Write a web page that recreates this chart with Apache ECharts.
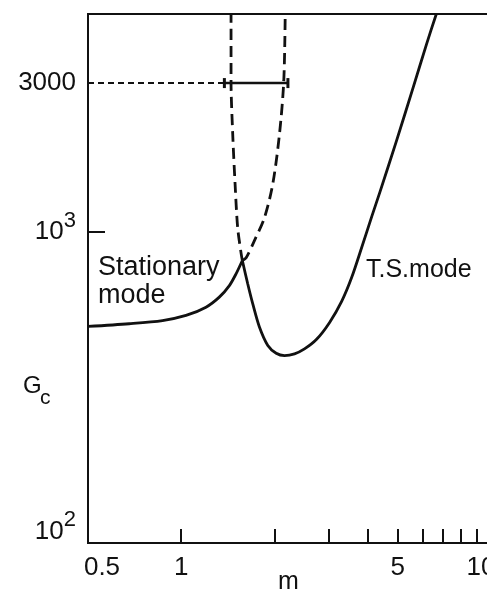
<!DOCTYPE html>
<html>
<head>
<meta charset="utf-8">
<script src="https://cdn.jsdelivr.net/npm/echarts@6/dist/echarts.min.js"></script>
<style>
  html, body { margin: 0; padding: 0; background: #fff; }
  #chart { width: 487px; height: 592px; }
</style>
</head>
<body>
<div id="chart"></div>
<script>
// axis marks
const xTicks = [1, 2, 3, 4, 5, 6, 7, 8, 9];
const xLabels = [0.5, 1, 5, 10];
const yTicks = [1000];
const yLabels = [100, 1000, 3000];

// curves, [m, Gc]
const stationary = [[0.5, 496], [0.679, 506], [0.87, 518], [1.036, 538], [1.202, 572],
  [1.327, 616], [1.43, 671], [1.503, 732], [1.575, 808]];
const stationaryDashed = [[1.575, 808], [1.62, 825], [1.723, 936], [1.857, 1110],
  [1.975, 1425], [2.076, 2061], [2.143, 3048], [2.166, 5000]];
const tsMode = [[1.575, 808], [1.639, 680], [1.701, 587], [1.788, 494], [1.903, 431],
  [2.025, 407], [2.154, 400], [2.321, 405], [2.5, 420], [2.735, 451], [3.013, 511],
  [3.295, 597], [3.549, 712], [3.824, 889], [4.12, 1117], [4.373, 1334], [4.953, 1957],
  [5.605, 2900], [6.19, 3995], [6.66, 5000]];
const tsDashed = [[1.575, 808], [1.561, 850], [1.521, 1030], [1.492, 1425],
  [1.466, 2061], [1.448, 3048], [1.448, 5000]];
const errorBar = [[1.378, 3000], [2.21, 3000]];
const guide = [[0.5, 3000], [1.378, 3000]];

const ink = '#111';
const font = 'Liberation Sans';

const chart = echarts.init(document.getElementById('chart'), null, { renderer: 'canvas' });

function curve(data, dashed) {
  return {
    type: 'line',
    data: data,
    smooth: 0.3,
    showSymbol: false,
    symbol: 'none',
    lineStyle: { color: ink, width: 2.8, type: dashed ? [11, 6] : 'solid' }
  };
}

chart.setOption({
  animation: false,
  backgroundColor: '#fff',
  grid: {
    left: 88, top: 14, bottom: 49, right: -4,
    containLabel: false, outerBoundsMode: 'none',
    show: true, borderColor: ink, borderWidth: 2
  },
  xAxis: {
    type: 'log',
    logBase: 10,
    min: 0.5,
    max: 10,
    axisLine: { show: false },
    splitLine: { show: false },
    minorTick: { show: false },
    axisTick: { show: true, inside: true, length: 14, customValues: xTicks, lineStyle: { color: ink, width: 2 } },
    axisLabel: {
      customValues: xLabels,
      margin: 12,
      color: ink,
      fontFamily: font,
      fontSize: 26,
      formatter: function (v) {
        if (v < 0.9) return '{l|0.5}';
        if (v > 9.5) return '{r|10}';
        return String(Math.round(v));
      },
      rich: {
        l: { fontFamily: font, fontSize: 26, color: ink, padding: [0, 0, 0, 28] },
        r: { fontFamily: font, fontSize: 26, color: ink, padding: [0, 20, 0, 0] }
      }
    }
  },
  yAxis: {
    type: 'log',
    logBase: 10,
    min: 100,
    max: 5000,
    axisLine: { show: false },
    splitLine: { show: false },
    minorTick: { show: false },
    axisTick: { show: true, inside: true, length: 17, customValues: yTicks, lineStyle: { color: ink, width: 2 } },
    axisLabel: {
      customValues: yLabels,
      margin: 12,
      color: ink,
      fontFamily: font,
      fontSize: 26,
      formatter: function (v) {
        if (v > 2000) return '3000';
        if (v > 500) return '{b|10}{s|3}';
        return '{b2|10}{s2|2}';
      },
      rich: {
        b: { fontFamily: font, fontSize: 26, lineHeight: 26, color: ink },
        s: { fontFamily: font, fontSize: 22, lineHeight: 22, color: ink, padding: [0, 0, 22, 0] },
        b2: { fontFamily: font, fontSize: 26, lineHeight: 26, color: ink, padding: [0, 0, 22, 0] },
        s2: { fontFamily: font, fontSize: 22, lineHeight: 22, color: ink, padding: [0, 0, 46, 0] }
      }
    }
  },
  series: [
    curve(stationary, false),
    curve(stationaryDashed, true),
    curve(tsMode, false),
    curve(tsDashed, true),
    {
      type: 'line',
      data: guide,
      symbol: 'none',
      lineStyle: { color: ink, width: 2, type: [6, 4] }
    },
    {
      type: 'line',
      data: errorBar,
      symbol: 'rect',
      symbolSize: [3, 10],
      showSymbol: true,
      itemStyle: { color: ink },
      lineStyle: { color: ink, width: 2.5 }
    }
  ],
  graphic: [
    { type: 'text', left: 98, top: 254, style: { text: 'Stationary', font: '27px "Liberation Sans"', fill: ink } },
    { type: 'text', left: 98, top: 282, style: { text: 'mode', font: '27px "Liberation Sans"', fill: ink } },
    { type: 'text', left: 366, top: 258, style: { text: 'T.S.mode', font: '25px "Liberation Sans"', fill: ink } },
    { type: 'text', left: 23, top: 374, style: { text: 'G', font: '24px "Liberation Sans"', fill: ink } },
    { type: 'text', left: 40, top: 388, style: { text: 'c', font: '21px "Liberation Sans"', fill: ink } },
    { type: 'text', left: 278, top: 570, style: { text: 'm', font: '25px "Liberation Sans"', fill: ink } }
  ]
});
</script>
</body>
</html>
